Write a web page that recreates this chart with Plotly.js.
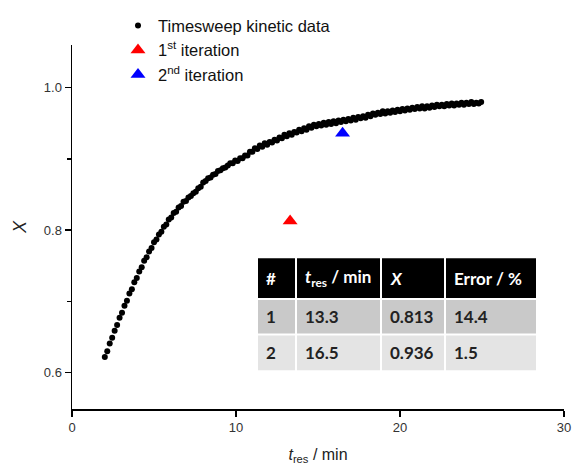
<!DOCTYPE html>
<html>
<head>
<meta charset="utf-8">
<script src="https://cdn.plot.ly/plotly-3.0.1.min.js"></script>
<style>html,body{margin:0;padding:0;background:#fff;}#chart{width:572px;height:467px;}</style>
</head>
<body>
<div id="chart"></div>
<script>
// ---- Data ----
const tData = [
  2.00, 2.15, 2.30, 2.45, 2.60, 2.75, 2.90, 3.05, 3.20, 3.35,
  3.50, 3.65, 3.80, 3.95, 4.10, 4.25, 4.40, 4.55, 4.70, 4.85,
  5.00, 5.15, 5.30, 5.45, 5.60, 5.75, 5.90, 6.05, 6.20, 6.35,
  6.50, 6.65, 6.80, 6.95, 7.10, 7.25, 7.40, 7.55, 7.70, 7.85,
  8.00, 8.15, 8.30, 8.45, 8.60, 8.75, 8.90, 9.05, 9.20, 9.35,
  9.50, 9.65, 9.80, 9.95, 10.10, 10.25, 10.40, 10.55, 10.70, 10.85,
  11.00, 11.15, 11.30, 11.45, 11.60, 11.75, 11.90, 12.05, 12.20, 12.35,
  12.50, 12.65, 12.80, 12.95, 13.10, 13.25, 13.40, 13.55, 13.70, 13.85,
  14.00, 14.15, 14.30, 14.45, 14.60, 14.75, 14.90, 15.05, 15.20, 15.35,
  15.50, 15.65, 15.80, 15.95, 16.10, 16.25, 16.40, 16.55, 16.70, 16.85,
  17.00, 17.15, 17.30, 17.45, 17.60, 17.75, 17.90, 18.05, 18.20, 18.35,
  18.50, 18.65, 18.80, 18.95, 19.10, 19.25, 19.40, 19.55, 19.70, 19.85,
  20.00, 20.15, 20.30, 20.45, 20.60, 20.75, 20.90, 21.05, 21.20, 21.35,
  21.50, 21.65, 21.80, 21.95, 22.10, 22.25, 22.40, 22.55, 22.70, 22.85,
  23.00, 23.15, 23.30, 23.45, 23.60, 23.75, 23.90, 24.05, 24.20, 24.35,
  24.50, 24.65, 24.80, 24.95
];
const xData = [
  0.622, 0.630, 0.641, 0.649, 0.659, 0.667, 0.677, 0.684, 0.694, 0.701,
  0.711, 0.717, 0.727, 0.733, 0.742, 0.748, 0.757, 0.762, 0.770, 0.775,
  0.783, 0.787, 0.794, 0.798, 0.805, 0.808, 0.815, 0.818, 0.824, 0.826,
  0.832, 0.834, 0.840, 0.841, 0.846, 0.848, 0.852, 0.854, 0.859, 0.861,
  0.867, 0.869, 0.873, 0.874, 0.878, 0.879, 0.883, 0.884, 0.887, 0.888,
  0.891, 0.894, 0.894, 0.898, 0.897, 0.901, 0.901, 0.905, 0.905, 0.910,
  0.910, 0.915, 0.914, 0.919, 0.917, 0.922, 0.920, 0.924, 0.923, 0.927,
  0.926, 0.930, 0.929, 0.934, 0.932, 0.936, 0.934, 0.938, 0.937, 0.941,
  0.939, 0.943, 0.941, 0.946, 0.944, 0.948, 0.946, 0.949, 0.947, 0.951,
  0.948, 0.952, 0.949, 0.953, 0.950, 0.954, 0.952, 0.955, 0.953, 0.956,
  0.954, 0.958, 0.955, 0.959, 0.957, 0.960, 0.958, 0.962, 0.960, 0.964,
  0.962, 0.965, 0.963, 0.967, 0.964, 0.967, 0.965, 0.968, 0.966, 0.969,
  0.967, 0.970, 0.968, 0.971, 0.969, 0.972, 0.970, 0.973, 0.971, 0.974,
  0.971, 0.974, 0.972, 0.975, 0.973, 0.976, 0.974, 0.976, 0.974, 0.977,
  0.975, 0.978, 0.975, 0.978, 0.976, 0.979, 0.976, 0.979, 0.977, 0.980,
  0.977, 0.979, 0.978, 0.980
];
const iterNames = ['1<sup>st</sup> iteration', '2<sup>nd</sup> iteration'];
const iterT = [13.3, 16.5];
const iterX = [0.813, 0.936];
const iterErr = [14.4, 1.5];
const tableHeader = ['#', '<i>t</i><sub>res</sub> / min', '<i>X</i>', 'Error / %'];
const xTickVals = [0, 10, 20, 30];
const yTickVals = [0.6, 0.8, 1.0];

// ---- Layout helpers (pixel -> paper) ----
const M = {l: 72, r: 8, t: 42, b: 58};
const W = 572, H = 467;
const PW = W - M.l - M.r, PH = H - M.t - M.b;
const px = v => (v - M.l) / PW;
const py = v => (H - M.b - v) / PH;

const iterColors = ['#ff0000', '#0000ff'];

const traces = [{
  type: 'scatter', mode: 'markers', name: 'Timesweep kinetic data',
  x: tData, y: xData,
  marker: {color: '#000', size: 6, symbol: 'circle'}
}];
iterT.forEach((t, i) => {
  traces.push({
    type: 'scatter', mode: 'markers', name: iterNames[i],
    x: [t], y: [iterX[i]],
    marker: {color: iterColors[i], size: 13, symbol: 'triangle-up'}
  });
});

// ---- Table built from the iteration arrays ----
const tableRows = iterT.map((t, i) => [String(i + 1), t.toFixed(1), iterX[i].toFixed(3), iterErr[i].toFixed(1)]);
const colEdges = [[258, 295], [297, 380], [382, 444], [446, 536]];
const rowEdges = [[257, 297], [299, 333], [335, 370]];
const rowFills = ['#000000', '#c9c9c9', '#e4e4e4'];
const shapes = [];
const annotations = [];
const allRows = [tableHeader].concat(tableRows);
allRows.forEach((row, r) => {
  row.forEach((txt, c) => {
    shapes.push({
      type: 'rect', xref: 'paper', yref: 'paper', layer: 'above',
      x0: px(colEdges[c][0]), x1: px(colEdges[c][1]),
      y0: py(rowEdges[r][1]), y1: py(rowEdges[r][0]),
      fillcolor: rowFills[r], line: {width: 0}
    });
    annotations.push({
      xref: 'paper', yref: 'paper', showarrow: false,
      x: px(colEdges[c][0] + 6), y: py((rowEdges[r][0] + rowEdges[r][1]) / 2),
      xanchor: 'left', yanchor: 'middle',
      text: '<b>' + txt + '</b>',
      font: {family: 'Lato, "Open Sans", sans-serif', size: 17, color: r === 0 ? '#fff' : '#222'}
    });
  });
});

const layout = {
  width: W, height: H,
  margin: M,
  paper_bgcolor: '#fff', plot_bgcolor: '#fff',
  showlegend: true,
  legend: {
    x: px(118), y: py(5), xanchor: 'left', yanchor: 'top',
    bgcolor: 'rgba(0,0,0,0)', borderwidth: 0,
    font: {family: '"Liberation Sans", Arial, sans-serif', size: 16.5, color: '#111'},
    tracegroupgap: 0
  },
  xaxis: {
    range: [0, 30], tickvals: xTickVals, ticks: 'outside', ticklen: 6, tickwidth: 1.5, tickcolor: '#000',
    showline: true, linewidth: 1.5, linecolor: '#000', showgrid: false, zeroline: false,
    tickfont: {family: '"Liberation Sans", Arial, sans-serif', size: 13, color: '#333'},
    title: {text: '<i>t</i><sub>res</sub> / min', font: {family: '"Liberation Sans", Arial, sans-serif', size: 16, color: '#222'}, standoff: 14}
  },
  yaxis: {
    range: [0.549, 1.06], tickvals: yTickVals, tickformat: '.1f', ticks: 'outside', ticklen: 6, tickwidth: 1.5, tickcolor: '#000',
    showline: true, linewidth: 1.5, linecolor: '#000', showgrid: false, zeroline: false,
    minor: {dtick: 0.1, tick0: 0.5, ticks: 'outside', ticklen: 4, tickwidth: 1.5, tickcolor: '#000', showgrid: false},
    tickfont: {family: '"Liberation Sans", Arial, sans-serif', size: 13, color: '#333'},
    title: {text: '<i>X</i>', font: {family: '"Liberation Sans", Arial, sans-serif', size: 18, color: '#222'}, standoff: 12}
  },
  shapes: shapes,
  annotations: annotations
};

Plotly.newPlot('chart', traces, layout, {staticPlot: true, displayModeBar: false});
</script>
</body>
</html>
